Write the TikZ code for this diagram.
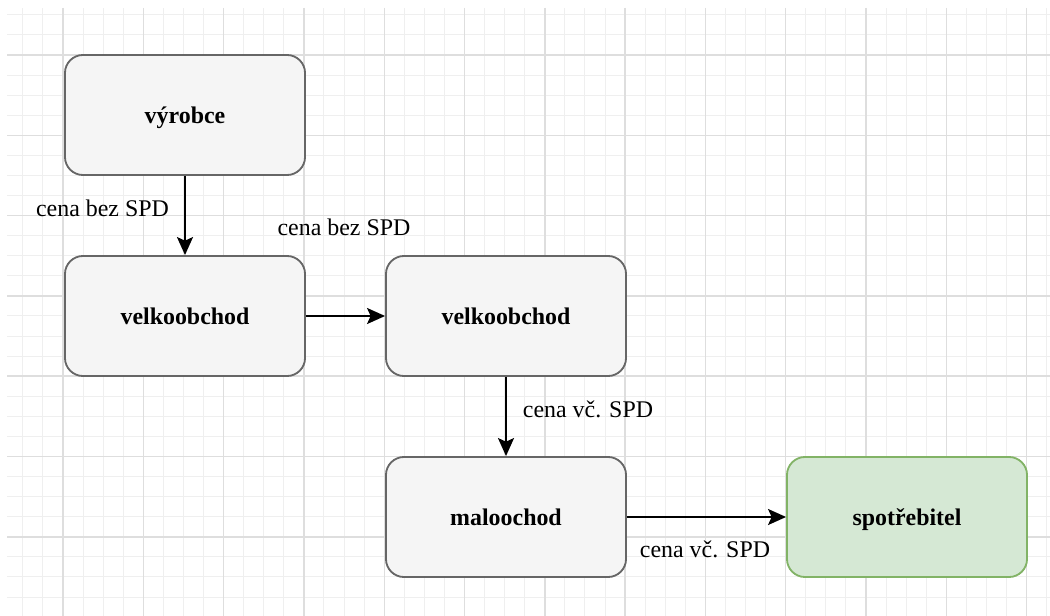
\documentclass[tikz,border=0pt]{standalone}
\usepackage{fontspec}
\setmainfont{Liberation Serif}
\usetikzlibrary{arrows.meta}

\definecolor{boxfill}{HTML}{F5F5F5}
\definecolor{boxline}{HTML}{666666}
\definecolor{greenfill}{HTML}{D5E8D4}
\definecolor{greenline}{HTML}{82B366}
\definecolor{gridminor}{HTML}{EFEFEF}
\definecolor{gridmajor}{HTML}{DEDEDE}

\tikzset{
	stage/.style={draw=boxline, fill=boxfill, line width=1.3pt, rounded corners=0.45cm,
		minimum width=6cm, minimum height=3cm, inner sep=0pt,
		text height=11.7pt, text depth=0pt,
		font=\fontsize{17}{20}\selectfont\bfseries},
	buyer/.style={stage, draw=greenline, fill=greenfill},
	flow/.style={line width=1.4pt, -{Stealth[length=0.45cm, width=0.4cm, inset=0.09cm]}},
	price/.style={font=\fontsize{17}{20}\selectfont, inner sep=0pt}
}

\begin{document}
\begin{tikzpicture}[x=0.025cm, y=-0.025cm]
			%%%%% START %%%%%
			
			\useasboundingbox (0, 0) rectangle (1050, 616);
			
			% grid
			\begin{scope}
				\clip (7, 8) rectangle (1050, 616);
				\foreach \k in {-3,...,49} {
					\draw[gridminor, line width=0.7pt] ({63+20.075*\k}, 8) -- ({63+20.075*\k}, 616);
				}
				\foreach \k in {-2,...,28} {
					\draw[gridminor, line width=0.7pt] (7, {55+20.075*\k}) -- (1050, {55+20.075*\k});
				}
				\foreach \k in {-1,...,12} {
					\draw[gridmajor, line width=1pt] ({63+80.3*\k}, 8) -- ({63+80.3*\k}, 616);
				}
				\foreach \k in {-1,...,7} {
					\draw[gridmajor, line width=1pt] (7, {55+80.3*\k}) -- (1050, {55+80.3*\k});
				}
			\end{scope}
			
			% boxes
			\node[stage] (vyrobce) at (185, 115) {výrobce};
			\node[stage] (velkoA) at (185, 316) {velkoobchod};
			\node[stage] (velkoB) at (506, 316) {velkoobchod};
			\node[stage] (malo) at (506, 517) {maloochod};
			\node[buyer] (spotr) at (907, 517) {spotřebitel};
			
			% arrows
			\draw[flow] (vyrobce) -- (velkoA);
			\draw[flow] (velkoA) -- (velkoB);
			\draw[flow] (velkoB) -- (malo);
			\draw[flow] (malo) -- (spotr);
			
			% prices
			\node[price] (cenaA) at (102.5, 208) {cena bez SPD};
			\node[price] (cenaB) at (344, 227) {cena bez SPD};
			\node[price] (cenaC) at (588, 409) {cena vč. SPD};
			\node[price] (cenaD) at (705, 549) {cena vč. SPD};
			
			%%%%% END %%%%%
\end{tikzpicture}
\end{document}
